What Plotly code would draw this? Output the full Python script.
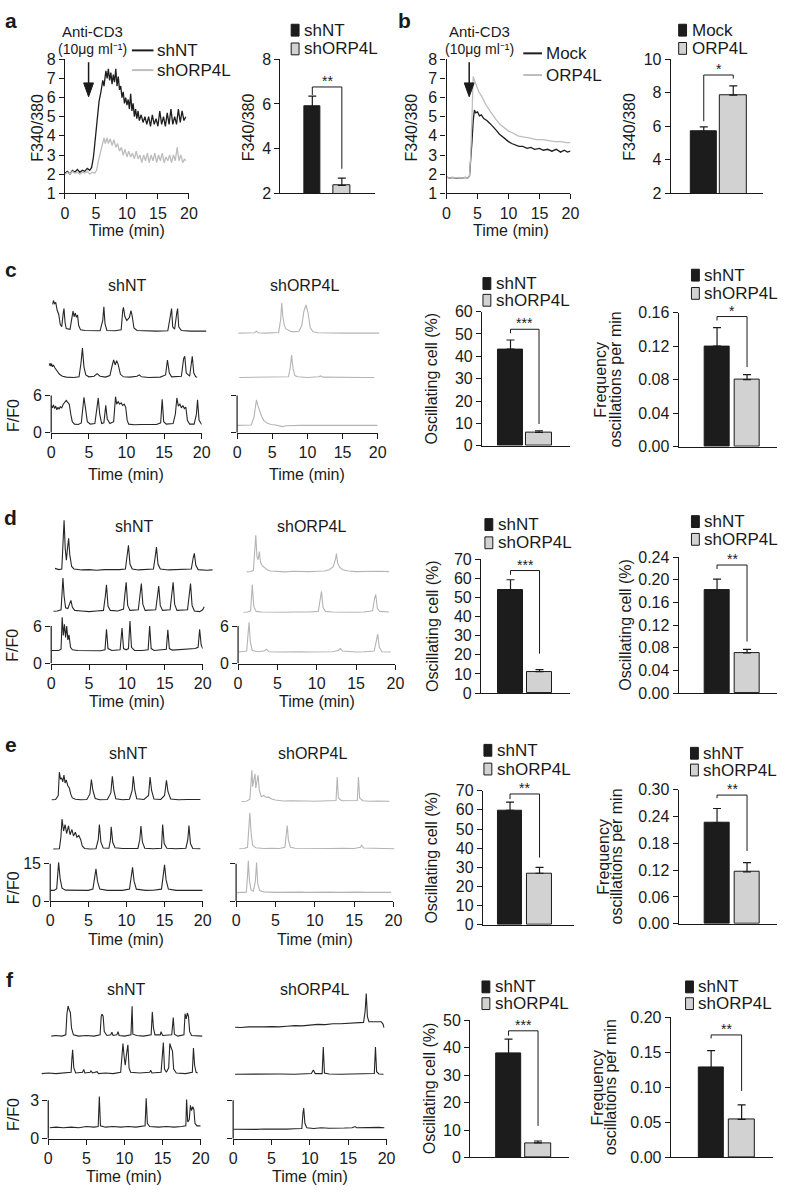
import plotly.graph_objects as go

W, H = 788, 1196
FONT = "Liberation Sans, Arial, Helvetica, sans-serif"
INK = "#1a1a1a"
DARK_TRACE = "#262626"
LIGHT_TRACE = "#b4b4b4"
BAR_COLORS = ["#1c1c1c", "#d2d2d2"]

TIME_TICKS = [0, 5, 10, 15, 20]
A_YTICKS = [1, 2, 3, 4, 5, 6, 7, 8]

# ---------------- panel a / b traces (time min, F340/380) ----------------
A_NT = [(0, 2.05), (0.4, 2.15), (0.8, 2.0), (1.2, 2.2), (1.6, 2.1), (2.0, 2.25), (2.4, 2.1), (2.8, 2.2),
        (3.2, 2.15), (3.6, 2.3), (4.0, 2.2), (4.3, 2.35), (4.6, 2.9), (4.9, 3.8), (5.2, 4.9), (5.5, 5.8),
        (5.8, 6.3), (6.1, 6.9), (6.3, 6.6), (6.6, 7.4), (6.8, 7.0), (7.0, 7.5), (7.2, 6.9), (7.4, 7.3),
        (7.6, 6.7), (7.8, 7.2), (8.0, 6.8), (8.2, 7.5), (8.4, 6.6), (8.6, 7.1), (8.8, 6.4), (9.0, 6.6),
        (9.2, 6.0), (9.4, 6.3), (9.6, 5.7), (9.8, 6.0), (10.0, 5.6), (10.2, 5.9), (10.4, 5.4), (10.6, 6.2),
        (10.8, 5.3), (11.0, 5.7), (11.2, 5.0), (11.4, 5.4), (11.6, 4.9), (11.8, 5.3), (12.0, 4.8), (12.3, 5.1),
        (12.6, 4.7), (12.9, 5.0), (13.2, 4.6), (13.5, 5.0), (13.8, 4.5), (14.1, 5.1), (14.4, 4.6), (14.7, 4.9),
        (15.0, 4.5), (15.3, 5.3), (15.6, 4.6), (15.9, 5.0), (16.2, 4.5), (16.5, 5.2), (16.8, 4.6), (17.1, 5.4),
        (17.4, 4.6), (17.7, 5.0), (18.0, 4.6), (18.3, 5.4), (18.6, 4.7), (18.9, 5.3), (19.2, 4.8), (19.5, 5.0)]
A_ORP = [(0, 2.0), (0.4, 2.1), (0.8, 2.0), (1.2, 2.15), (1.6, 2.05), (2.0, 2.1), (2.4, 2.0), (2.8, 2.1),
         (3.2, 2.05), (3.6, 2.15), (4.0, 2.0), (4.4, 2.1), (4.8, 2.05), (5.1, 2.2), (5.4, 2.7), (5.7, 3.2),
         (6.0, 3.5), (6.3, 3.9), (6.5, 3.6), (6.8, 3.9), (7.0, 3.6), (7.3, 3.85), (7.6, 3.5), (7.9, 3.8),
         (8.2, 3.4), (8.5, 3.6), (8.8, 3.2), (9.1, 3.4), (9.4, 3.0), (9.7, 3.3), (10.0, 2.9), (10.3, 3.2),
         (10.6, 2.9), (10.9, 3.1), (11.2, 2.8), (11.5, 3.2), (11.8, 2.8), (12.1, 3.0), (12.4, 2.6), (12.7, 3.0),
         (13.0, 2.7), (13.3, 3.1), (13.6, 2.6), (13.9, 3.0), (14.2, 2.7), (14.5, 3.1), (14.8, 2.6), (15.1, 3.0),
         (15.4, 2.7), (15.7, 3.1), (16.0, 2.6), (16.3, 2.9), (16.6, 2.7), (16.9, 3.0), (17.2, 2.6), (17.5, 3.0),
         (17.8, 2.7), (18.1, 3.4), (18.4, 2.7), (18.7, 3.0), (19.0, 2.6), (19.3, 2.8), (19.5, 2.7)]
B_MOCK = [(0, 1.85), (0.5, 1.8), (1, 1.83), (1.5, 1.78), (2, 1.82), (2.5, 1.79), (3, 1.83), (3.4, 1.8),
          (3.7, 1.9), (3.9, 2.6), (4.1, 3.7), (4.3, 4.8), (4.5, 5.35), (4.7, 5.2), (5.0, 5.25), (5.3, 5.05),
          (5.6, 5.1), (6.0, 4.9), (6.5, 4.8), (7.0, 4.65), (7.5, 4.5), (8.0, 4.3), (8.5, 4.1), (9.0, 3.95),
          (9.6, 3.8), (10.0, 3.7), (10.5, 3.6), (11.0, 3.55), (11.7, 3.45), (12.3, 3.45), (13.0, 3.35),
          (13.6, 3.4), (14.2, 3.3), (15.0, 3.35), (15.6, 3.25), (16.3, 3.3), (17.0, 3.2), (17.7, 3.3),
          (18.4, 3.15), (19.0, 3.25), (19.5, 3.15), (20, 3.2)]
B_ORP4L = [(0, 1.85), (0.5, 1.8), (1, 1.82), (1.5, 1.8), (2, 1.83), (2.5, 1.8), (3, 1.82), (3.4, 1.8),
           (3.7, 1.9), (3.9, 3.0), (4.1, 5.0), (4.3, 7.1), (4.5, 6.9), (4.8, 6.6), (5.2, 6.3), (5.6, 6.1),
           (5.9, 5.9), (6.4, 5.6), (7.0, 5.3), (7.5, 5.05), (8.0, 4.85), (8.6, 4.6), (9.2, 4.45), (10.0, 4.25),
           (10.7, 4.15), (11.5, 4.0), (12.3, 3.95), (13.3, 3.9), (14.5, 3.8), (15.5, 3.8), (16.5, 3.75),
           (17.5, 3.7), (18.5, 3.7), (19.3, 3.65), (20, 3.65)]

# ---------------- bar data ----------------
A_BAR, A_ERR, A_BRK = [5.88, 2.35], [0.47, 0.33], [6.4, 6.76, 3.1]
B_BAR, B_ERR, B_BRK = [5.7, 7.86], [0.26, 0.55], [6.3, 9.06, 8.85]
C1_BAR, C1_ERR, C1_BRK = [43.2, 5.9], [4.1, 0.7], [50.3, 52.1, 9.7]
C2_BAR, C2_ERR, C2_BRK = [0.120, 0.080], [0.022, 0.006], [0.1506, 0.1553, 0.095]
D1_BAR, D1_ERR, D1_BRK = [54.0, 11.2], [5.2, 1.1], [61.8, 64.0, 20.6]
D2_BAR, D2_ERR, D2_BRK = [0.181, 0.071], [0.020, 0.006], [0.219, 0.226, 0.091]
E1_BAR, E1_ERR, E1_BRK = [59.7, 26.9], [4.3, 3.1], [65.6, 68.3, 35.1]
E2_BAR, E2_ERR, E2_BRK = [0.226, 0.116], [0.032, 0.021], [0.281, 0.288, 0.163]
F1_BAR, F1_ERR, F1_BRK = [37.9, 5.3], [5.3, 0.7], [44.4, 46.2, 11.5]
F2_BAR, F2_ERR, F2_BRK = [0.128, 0.0545], [0.0245, 0.0205], [0.170, 0.175, 0.095]

# ---------------- single-cell traces (time min, F/F0) ----------------
C_NT_1 = [(0.2, 5.6), (0.3, 6.2), (0.45, 5.7), (0.6, 5.9), (0.8, 4.6), (1.0, 4.0), (1.2, 2.4), (1.4, 2.0),
          (1.6, 4.2), (1.7, 4.9), (1.85, 2.6), (2.0, 1.7), (2.5, 1.6), (2.75, 3.5), (2.9, 4.5), (3.05, 3.6),
          (3.2, 4.2), (3.35, 3.5), (3.5, 3.9), (3.65, 2.2), (3.9, 1.5), (4.5, 1.4), (5.5, 1.35), (6.5, 1.35),
          (6.85, 3.0), (7.0, 5.2), (7.15, 2.5), (7.4, 1.4), (8.5, 1.35), (9.3, 1.5), (9.5, 4.5), (9.6, 5.1),
          (9.8, 3.6), (9.9, 3.3), (10.05, 3.0), (10.4, 3.5), (10.6, 4.6), (10.75, 3.8), (11.0, 1.8), (11.4, 1.4),
          (12.5, 1.35), (14, 1.3), (15.5, 1.35), (15.85, 3.5), (16.0, 4.9), (16.15, 2.0), (16.4, 1.6),
          (16.7, 4.3), (16.8, 4.9), (16.95, 2.0), (17.3, 1.4), (18.5, 1.3), (20.6, 1.3)]
C_NT_2 = [(-0.25, 3.2), (-0.15, 3.6), (-0.05, 3.1), (0.05, 3.5), (0.15, 3.0), (0.3, 3.3), (0.5, 2.8), (0.8, 2.3),
          (1.1, 1.8), (1.5, 1.5), (2.0, 1.35), (3.0, 1.3), (3.7, 1.4), (3.95, 3.5), (4.15, 6.0), (4.35, 3.0),
          (4.6, 1.7), (5.0, 1.4), (5.7, 1.5), (6.1, 1.9), (6.5, 1.5), (7.2, 1.35), (7.8, 1.6), (8.1, 3.2),
          (8.3, 4.1), (8.5, 3.3), (8.7, 4.0), (8.9, 3.4), (9.2, 1.8), (9.6, 1.4), (10.5, 1.35), (11.4, 1.5),
          (11.7, 1.7), (12.0, 1.4), (13, 1.3), (14.5, 1.35), (15.2, 1.7), (15.45, 4.1), (15.7, 2.0), (16.0, 1.4),
          (17.3, 1.5), (17.6, 4.3), (17.75, 4.7), (17.95, 2.0), (18.4, 1.5), (18.75, 4.7), (18.95, 2.0),
          (19.2, 1.4), (19.4, 1.35)]
C_NT_3 = [(0, 4.4), (0.15, 4.0), (0.3, 4.5), (0.45, 3.9), (0.6, 4.3), (0.75, 3.7), (0.9, 4.1), (1.05, 3.8),
          (1.2, 4.2), (1.4, 4.0), (1.6, 4.6), (1.8, 5.0), (2.0, 5.2), (2.2, 4.9), (2.4, 4.6), (2.6, 3.0),
          (2.8, 1.8), (3.1, 1.4), (3.6, 1.35), (4.0, 1.6), (4.2, 4.5), (4.35, 5.7), (4.55, 4.0), (4.8, 1.8),
          (5.2, 1.4), (5.8, 1.5), (6.1, 4.2), (6.25, 5.6), (6.45, 3.0), (6.7, 1.5), (7.0, 1.6), (7.25, 4.4),
          (7.45, 2.2), (7.8, 1.5), (8.3, 1.8), (8.55, 5.8), (8.7, 4.6), (8.9, 5.0), (9.1, 4.6), (9.3, 4.8),
          (9.5, 4.4), (9.7, 4.6), (9.9, 4.1), (10.1, 2.0), (10.3, 1.4), (11, 1.3), (12, 1.35), (13, 1.3),
          (14, 1.35), (14.55, 1.6), (14.75, 5.4), (14.95, 1.8), (15.3, 1.4), (16.2, 1.5), (16.5, 3.0),
          (16.7, 5.6), (16.9, 4.3), (17.1, 4.6), (17.3, 4.0), (17.5, 4.4), (17.7, 3.9), (17.9, 4.1), (18.1, 2.0),
          (18.4, 1.4), (19.0, 1.4), (19.3, 3.0), (19.45, 5.3), (19.65, 2.0), (19.9, 1.4), (20, 1.35)]
C_ORP_1 = [(0.2, 1.3), (1.0, 1.3), (2.0, 1.3), (2.5, 1.35), (2.75, 1.6), (3.0, 1.35), (4, 1.3), (5, 1.3),
           (5.9, 1.4), (6.2, 3.5), (6.35, 6.1), (6.5, 4.0), (6.7, 2.6), (6.9, 2.0), (7.2, 1.8), (7.6, 1.6),
           (8.0, 1.5), (8.8, 1.6), (9.2, 2.5), (9.5, 4.8), (9.8, 5.8), (10.1, 4.5), (10.4, 2.2), (10.8, 1.5),
           (11.5, 1.35), (13, 1.3), (15, 1.3), (17, 1.3), (19, 1.3), (20.2, 1.3)]
C_ORP_2 = [(0.3, 1.3), (2, 1.3), (4, 1.3), (6, 1.3), (7.3, 1.4), (7.55, 2.8), (7.75, 4.9), (7.95, 2.8),
           (8.2, 1.6), (8.6, 1.4), (10, 1.3), (11.6, 1.4), (11.9, 1.55), (12.2, 1.35), (14, 1.3), (16, 1.3),
           (18, 1.3), (19.5, 1.3)]
C_ORP_3 = [(0, 1.2), (1, 1.2), (2.0, 1.25), (2.4, 2.5), (2.6, 4.6), (2.75, 5.3), (2.95, 4.4), (3.2, 3.4),
           (3.5, 2.6), (3.8, 2.0), (4.2, 1.6), (4.8, 1.35), (5.5, 1.25), (6.4, 1.0), (7, 1.15), (9, 1.2),
           (11, 1.2), (13, 1.2), (15, 1.15), (17, 1.2), (19, 1.2), (20, 1.2)]

D_NT_1 = [(0.5, 2.3), (1.0, 2.1), (1.4, 2.2), (1.55, 6.0), (1.7, 10.0), (1.85, 5.5), (2.0, 3.6), (2.15, 5.5),
          (2.3, 7.1), (2.45, 4.5), (2.7, 2.6), (3.0, 2.2), (4, 2.05), (5, 2.1), (6, 2.0), (7, 2.1), (8, 2.05),
          (9, 2.1), (9.8, 2.2), (10.05, 4.5), (10.2, 6.0), (10.4, 3.0), (10.7, 2.2), (11.5, 2.05), (12.5, 2.1),
          (13.5, 2.2), (13.75, 4.3), (13.9, 5.7), (14.1, 3.0), (14.4, 2.2), (15.5, 2.05), (16.5, 2.1),
          (17.5, 2.05), (18.5, 2.2), (18.75, 4.0), (18.9, 4.7), (19.1, 2.8), (19.4, 2.1), (20.5, 2.0), (21.3, 2.05)]
D_NT_2 = [(0.3, 2.05), (0.8, 2.1), (1.3, 2.3), (1.45, 5.0), (1.55, 7.4), (1.7, 4.5), (1.9, 2.6), (2.2, 2.5),
          (2.45, 3.4), (2.6, 3.8), (2.8, 2.7), (3.1, 2.2), (4, 2.1), (5, 2.0), (6, 2.1), (6.9, 2.2), (7.15, 4.5),
          (7.3, 6.3), (7.5, 2.9), (7.8, 2.2), (8.8, 2.1), (9.55, 2.4), (9.75, 5.0), (9.9, 6.7), (10.1, 3.0),
          (10.4, 2.2), (11.5, 2.3), (11.75, 4.8), (11.9, 6.5), (12.1, 3.2), (12.4, 2.2), (13.8, 2.3),
          (14.05, 4.5), (14.2, 6.1), (14.4, 3.0), (14.7, 2.2), (15.7, 2.3), (15.95, 5.0), (16.1, 6.7),
          (16.3, 3.2), (16.6, 2.2), (18.0, 2.3), (18.25, 4.8), (18.4, 6.5), (18.6, 3.0), (18.9, 2.1),
          (19.6, 2.0), (20.0, 2.3), (20.2, 2.8)]
D_NT_3 = [(0, 2.1), (0.5, 2.15), (1.0, 2.1), (1.3, 2.3), (1.45, 7.4), (1.6, 4.5), (1.75, 6.3), (1.9, 4.2),
          (2.05, 6.0), (2.2, 3.8), (2.35, 4.6), (2.55, 2.6), (2.8, 2.2), (3.5, 2.1), (4.5, 2.05), (5.5, 2.1),
          (6.5, 2.05), (7.1, 2.2), (7.3, 5.5), (7.5, 2.4), (8.0, 2.1), (9.1, 2.2), (9.35, 5.7), (9.55, 2.4),
          (9.9, 2.2), (10.2, 2.4), (10.4, 6.8), (10.6, 2.6), (11, 2.1), (12, 2.1), (12.8, 2.2), (13.0, 6.0),
          (13.2, 2.4), (13.6, 2.1), (14.5, 2.15), (15.2, 2.3), (15.4, 5.4), (15.6, 2.4), (16, 2.15), (17, 2.2),
          (18, 2.3), (19, 2.4), (19.4, 2.6), (19.6, 5.5), (19.8, 3.0), (20, 2.4)]
D_ORP_1 = [(1.1, 2.05), (1.6, 2.1), (1.95, 2.3), (2.1, 5.5), (2.25, 7.9), (2.4, 4.5), (2.55, 4.0), (2.7, 5.3),
           (2.85, 3.6), (3.1, 3.0), (3.4, 2.7), (3.7, 2.4), (4.1, 2.2), (5, 2.1), (6, 2.05), (7, 2.15), (8, 2.1),
           (9, 2.1), (10, 2.15), (11, 2.2), (11.6, 2.4), (12.1, 2.9), (12.4, 4.2), (12.5, 5.0), (12.65, 3.5),
           (12.9, 2.8), (13.3, 2.4), (14, 2.2), (15, 2.1), (16, 2.15), (17, 2.1), (18, 2.15), (19.2, 2.1)]
D_ORP_2 = [(0.7, 2.05), (1.2, 2.1), (1.6, 2.3), (1.8, 6.5), (2.0, 3.0), (2.3, 2.2), (3, 2.1), (4, 2.05),
           (5, 2.1), (6, 2.05), (7, 2.1), (8, 2.05), (9, 2.1), (10.2, 2.2), (10.45, 4.5), (10.6, 5.4),
           (10.8, 2.8), (11.1, 2.2), (12, 2.1), (13, 2.05), (14, 2.1), (15, 2.05), (16, 2.1), (17.1, 2.3),
           (17.35, 4.3), (17.5, 4.9), (17.7, 2.7), (18.0, 2.2), (19.2, 2.1)]
D_ORP_3 = [(0, 1.85), (0.6, 1.9), (1.1, 2.0), (1.25, 4.5), (1.4, 6.6), (1.55, 3.5), (1.8, 2.1), (2.5, 1.9),
           (3.3, 2.0), (3.6, 2.3), (3.9, 1.9), (5, 1.85), (6, 1.9), (7, 1.85), (8, 1.9), (9, 1.85), (10, 1.9),
           (11, 1.85), (12, 1.9), (12.7, 2.1), (13.0, 2.4), (13.3, 2.0), (14, 1.9), (15, 1.85), (16, 1.9),
           (17.3, 2.0), (17.6, 3.8), (17.75, 4.7), (17.95, 2.6), (18.3, 1.9), (19.4, 1.85)]

E_NT_1 = [(0.2, 4.3), (0.7, 4.4), (1.05, 6.0), (1.2, 15.4), (1.35, 12.5), (1.5, 13.0), (1.65, 11.5), (1.8, 14.2),
          (1.95, 11.0), (2.1, 12.2), (2.3, 10.0), (2.5, 9.0), (2.7, 6.5), (2.9, 5.0), (3.3, 4.5), (4, 4.3),
          (4.8, 4.4), (5.2, 6.5), (5.4, 12.4), (5.6, 8.0), (5.9, 4.8), (6.5, 4.3), (7.5, 4.4), (7.95, 7.0),
          (8.15, 13.7), (8.35, 8.0), (8.6, 4.7), (9.5, 4.3), (10.4, 4.5), (10.75, 8.0), (10.9, 13.7),
          (11.1, 8.0), (11.35, 4.7), (12.3, 4.4), (12.9, 6.0), (13.1, 13.4), (13.3, 8.0), (13.6, 4.6),
          (14.5, 4.4), (15.0, 6.0), (15.25, 12.1), (15.45, 7.5), (15.8, 4.6), (16.8, 4.3), (18, 4.4),
          (19, 4.3), (19.7, 4.4)]
E_NT_2 = [(0.4, 4.3), (1.2, 4.4), (1.4, 9.0), (1.55, 16.3), (1.75, 11.5), (1.95, 14.1), (2.15, 10.5),
          (2.4, 13.6), (2.6, 10.0), (2.85, 12.1), (3.05, 9.5), (3.3, 11.0), (3.5, 9.0), (3.75, 9.7), (4.0, 8.0),
          (4.2, 5.5), (4.5, 4.5), (5.2, 4.3), (6.0, 4.4), (6.3, 8.0), (6.45, 14.1), (6.65, 7.0), (6.95, 4.7),
          (7.7, 4.6), (7.9, 8.0), (8.0, 13.2), (8.2, 7.0), (8.5, 4.8), (9.5, 4.5), (10.5, 4.4), (11.5, 4.5),
          (11.75, 8.0), (11.9, 13.5), (12.1, 7.0), (12.4, 4.6), (13.5, 4.4), (14.6, 4.6), (14.75, 14.1),
          (14.95, 6.5), (15.3, 4.6), (16.5, 4.4), (17.8, 4.6), (18.05, 8.0), (18.2, 13.7), (18.4, 6.5),
          (18.7, 4.5), (19.7, 4.4)]
E_NT_3 = [(0, 4.3), (0.5, 4.3), (0.85, 5.0), (1.0, 12.0), (1.1, 15.5), (1.3, 9.0), (1.55, 5.2), (2.0, 4.4),
          (3, 4.3), (4, 4.35), (5, 4.3), (5.6, 4.8), (5.85, 11.0), (6.0, 12.9), (6.2, 8.0), (6.5, 4.8),
          (7.5, 4.3), (8.5, 4.35), (9.5, 4.3), (10.4, 4.8), (10.65, 11.5), (10.8, 13.5), (11.0, 8.0),
          (11.3, 4.8), (12.5, 4.3), (13.5, 4.35), (14.6, 4.8), (14.85, 12.0), (15.0, 14.5), (15.2, 8.5),
          (15.5, 4.8), (16.5, 4.3), (17.5, 4.35), (18.5, 4.3), (20, 4.3)]
E_ORP_1 = [(0.7, 3.6), (1.3, 3.7), (1.75, 4.5), (1.9, 10.0), (2.0, 16.1), (2.1, 9.5), (2.25, 12.0),
           (2.4, 14.7), (2.5, 9.0), (2.65, 11.0), (2.8, 14.1), (2.95, 8.0), (3.2, 5.5), (3.5, 6.0), (3.8, 5.2),
           (4.1, 5.4), (4.5, 4.6), (5, 4.2), (6, 3.8), (7, 3.9), (8, 3.7), (9, 3.8), (10, 3.7), (11, 3.8),
           (12, 3.7), (12.7, 4.0), (12.85, 13.4), (13.0, 5.0), (13.4, 3.9), (14.5, 3.8), (15.4, 4.0),
           (15.55, 13.4), (15.7, 5.0), (16.1, 3.9), (17, 3.7), (18, 3.8), (19.5, 3.7)]
E_ORP_2 = [(0.4, 3.6), (1.0, 3.7), (1.45, 4.2), (1.6, 10.0), (1.75, 18.0), (1.9, 10.0), (2.1, 5.0), (2.5, 4.0),
           (3.5, 3.7), (4.5, 3.8), (5.5, 3.7), (6.2, 4.2), (6.35, 9.0), (6.5, 12.9), (6.65, 7.0), (6.9, 4.2),
           (7.5, 3.8), (9, 3.7), (10.5, 3.8), (12, 3.7), (13.5, 3.8), (15, 3.7), (15.8, 4.2), (15.95, 5.0),
           (16.2, 3.9), (17.5, 3.7), (19, 3.7), (20.1, 3.6)]
E_ORP_3 = [(0.1, 3.4), (0.8, 3.5), (1.3, 3.6), (1.45, 10.0), (1.55, 16.2), (1.7, 8.0), (1.9, 4.5), (2.2, 4.0),
           (2.45, 8.0), (2.6, 15.5), (2.75, 7.0), (3.0, 4.2), (3.5, 3.7), (5, 3.5), (6, 3.6), (7, 3.5), (8, 3.6),
           (9, 3.5), (10, 3.6), (11, 3.5), (12, 3.6), (13, 3.5), (14, 3.6), (15, 3.8), (15.5, 3.6), (16.5, 3.5),
           (17.5, 3.6), (18.5, 3.5), (19.7, 3.5)]

F_NT_1 = [(0.4, 0.85), (1, 0.9), (1.8, 0.85), (2.3, 0.95), (2.45, 2.6), (2.6, 3.2), (2.75, 2.9), (2.9, 2.7),
          (3.05, 1.5), (3.3, 0.95), (4, 0.85), (5, 0.9), (6, 0.85), (6.8, 0.95), (6.95, 2.4), (7.05, 2.56),
          (7.2, 2.4), (7.35, 1.2), (7.7, 0.9), (8.2, 0.95), (8.35, 1.15), (8.5, 0.9), (9.0, 0.95), (9.15, 1.2),
          (9.3, 0.9), (10, 0.85), (10.85, 0.95), (11.0, 3.18), (11.1, 1.0), (11.6, 0.9), (12.5, 0.85),
          (13.5, 0.95), (13.65, 2.74), (13.8, 1.5), (14.0, 0.95), (14.7, 0.95), (14.8, 1.2), (15.0, 0.9),
          (16.2, 0.95), (16.4, 2.3), (16.55, 1.0), (17, 0.85), (17.8, 0.95), (17.95, 2.6), (18.1, 2.2),
          (18.25, 2.65), (18.4, 2.4), (18.55, 1.2), (18.8, 0.9), (19.5, 0.85), (20.2, 0.85)]
F_NT_2 = [(-0.85, 0.85), (0, 0.9), (1, 0.85), (2, 0.9), (3.0, 0.95), (3.1, 2.0), (3.2, 2.7), (3.35, 1.3),
          (3.6, 0.9), (4.5, 0.95), (4.65, 1.18), (4.8, 0.9), (5.5, 0.95), (5.6, 1.05), (5.8, 0.9), (6.4, 1.0),
          (6.6, 0.85), (7.5, 0.9), (8.5, 0.85), (9.5, 0.95), (9.65, 2.6), (9.8, 3.2), (9.95, 2.2), (10.1, 1.5),
          (10.3, 2.5), (10.45, 3.1), (10.6, 1.3), (10.8, 0.95), (12, 0.9), (13.3, 0.95), (13.45, 1.1),
          (13.6, 0.9), (14.8, 0.95), (14.95, 2.4), (15.1, 3.28), (15.25, 1.2), (15.5, 0.95), (15.8, 1.3),
          (15.95, 3.2), (16.1, 2.9), (16.3, 2.6), (16.45, 1.2), (16.8, 0.9), (18, 0.85), (18.9, 0.95),
          (19.05, 2.85), (19.2, 1.5), (19.4, 0.95), (19.6, 0.9)]
F_NT_3 = [(0.2, 0.85), (1, 0.9), (2, 0.85), (3, 0.9), (4, 0.85), (5, 0.95), (6, 0.9), (6.55, 0.95), (6.7, 3.3),
          (6.85, 1.0), (7.5, 0.9), (8.5, 0.95), (9.5, 0.9), (10.5, 0.95), (11.5, 0.9), (12.7, 1.0), (12.85, 3.15),
          (13.0, 1.2), (13.3, 0.95), (14.5, 0.9), (15.5, 0.95), (16.5, 0.9), (17.5, 0.95), (18.05, 1.0),
          (18.15, 3.05), (18.3, 1.3), (18.5, 1.5), (18.65, 2.6), (18.8, 2.2), (18.95, 2.5), (19.1, 2.3),
          (19.25, 1.2), (19.5, 1.0), (20, 1.0)]
F_ORP_1 = [(0.25, 0.77), (1, 0.75), (2, 0.8), (3, 0.78), (4, 0.8), (5, 0.82), (6, 0.8), (7, 0.85), (8, 0.9),
           (9, 0.88), (10, 0.95), (11, 1.0), (12, 0.98), (13, 1.05), (14, 1.05), (15, 1.1), (16, 1.1),
           (17.0, 1.15), (17.2, 2.0), (17.35, 3.4), (17.5, 1.6), (17.7, 1.2), (18.5, 1.2), (19.3, 1.2),
           (19.55, 1.0), (19.65, 0.75)]
F_ORP_2 = [(0.25, 0.8), (2, 0.82), (4, 0.8), (6, 0.82), (8, 0.8), (10.2, 0.85), (10.45, 1.13), (10.7, 0.85),
           (11.6, 0.85), (11.75, 2.92), (11.9, 0.9), (12.5, 0.82), (14, 0.8), (16, 0.82), (18.4, 0.85),
           (18.55, 2.92), (18.7, 1.0), (19, 0.82), (19.6, 0.8)]
F_ORP_3 = [(0, 0.74), (1, 0.72), (2, 0.75), (3, 0.73), (4, 0.76), (5, 0.74), (6, 0.77), (7, 0.75), (8, 0.78),
           (8.95, 0.8), (9.1, 2.0), (9.2, 2.38), (9.35, 1.2), (9.6, 0.85), (10.5, 0.8), (11.5, 0.85),
           (12.5, 0.82), (13.5, 0.85), (14.5, 0.83), (15.5, 0.85), (15.9, 0.95), (16.1, 0.85), (17, 0.87),
           (18, 0.9), (19, 0.88), (19.7, 0.86)]

# ======================================================================
fig = go.Figure()
axes_layout = {}
shapes = []
annotations = []
n_axes = [0]


def px_x(p):
    return p / W


def px_y(p):
    return 1 - p / H


AX = dict(showgrid=False, zeroline=False, showline=True, linecolor=INK, linewidth=1.2,
          ticks="outside", ticklen=5, tickwidth=1.2, tickcolor=INK,
          tickfont=dict(family=FONT, size=16, color=INK), fixedrange=True)
HID = dict(visible=False, showgrid=False, zeroline=False, fixedrange=True)


def add_axes(xdom, ydom, xkw, ykw):
    n_axes[0] += 1
    i = n_axes[0]
    s = "" if i == 1 else str(i)
    xa = dict(xkw)
    ya = dict(ykw)
    xa.update(domain=[px_x(xdom[0]), px_x(xdom[1])], anchor="y" + s)
    ya.update(domain=[px_y(ydom[1]), px_y(ydom[0])], anchor="x" + s)
    axes_layout["xaxis" + s] = xa
    axes_layout["yaxis" + s] = ya
    return "x" + s, "y" + s


def text(xp, yp, s, size=16, angle=0, xanchor="center", yanchor="middle"):
    annotations.append(dict(xref="paper", yref="paper", x=px_x(xp), y=px_y(yp), text=s, showarrow=False,
                            xanchor=xanchor, yanchor=yanchor, textangle=angle,
                            font=dict(family=FONT, size=size, color=INK)))


def line_trace(data, xa, ya, color, width=1.1):
    fig.add_trace(go.Scatter(x=[p[0] for p in data], y=[p[1] for p in data], mode="lines",
                             line=dict(color=color, width=width), xaxis=xa, yaxis=ya,
                             hoverinfo="skip", showlegend=False))


def trace_column(t0px, t20px, ppu, rows, color, tickmax, ticklabels, time_y):
    ppm = (t20px - t0px) / 20.0
    for k, (zp, data) in enumerate(rows):
        vals = [p[1] for p in data]
        if k < len(rows) - 1:
            xr = [-1.5, 22]
            vmax = max(vals) * 1.15
            xa, ya = add_axes((t0px + xr[0] * ppm, t0px + xr[1] * ppm), (zp - vmax * ppu, zp),
                              dict(HID, range=xr), dict(HID, range=[0, vmax]))
        else:
            vmax = max(tickmax, max(vals)) * 1.1
            ykw = dict(AX, showline=False, range=[0, vmax], tickvals=[0, tickmax])
            if ticklabels:
                ykw["ticktext"] = [str(0), str(tickmax)]
            else:
                ykw["showticklabels"] = False
            xa, ya = add_axes((t0px, t20px), (zp - vmax * ppu, zp),
                              dict(AX, range=[0, 20], tickvals=TIME_TICKS), ykw)
            shapes.append(dict(type="line", xref=xa + " domain", yref=ya, x0=0, x1=0, y0=0, y1=tickmax,
                               line=dict(color=INK, width=1.2)))
            text((t0px + t20px) / 2, time_y, "Time (min)")
        line_trace(data, xa, ya, color)


def bar_panel(ax0, ax1, c0, sp, bw, ytop, ybot, yr, yticks, fmt, vals, errs, brk, stars):
    xr = [(ax0 - c0) / sp, (ax1 - c0) / sp]
    ykw = dict(AX, range=yr, tickvals=yticks)
    if fmt:
        ykw["tickformat"] = fmt
    xa, ya = add_axes((ax0, ax1), (ytop, ybot),
                      dict(AX, range=xr, ticks="", showticklabels=False), ykw)
    fig.add_trace(go.Bar(x=[0, 1], y=vals, width=bw / sp,
                         marker=dict(color=BAR_COLORS, line=dict(color=INK, width=1)),
                         error_y=dict(type="data", symmetric=False, array=errs, arrayminus=[0, 0],
                                      color=INK, thickness=1.2, width=4),
                         xaxis=xa, yaxis=ya, hoverinfo="skip", showlegend=False))
    fig.add_trace(go.Scatter(x=[0, 0, 1, 1], y=[brk[0], brk[1], brk[1], brk[2]], mode="lines",
                             line=dict(color=INK, width=1), xaxis=xa, yaxis=ya,
                             hoverinfo="skip", showlegend=False))
    annotations.append(dict(xref=xa, yref=ya, x=0.5, y=brk[1], text=stars, showarrow=False,
                            yanchor="bottom", yshift=-4, font=dict(family=FONT, size=14, color=INK)))


def bar_legend(xp, y1, y2, labels):
    for yc, col, lab in ((y1, BAR_COLORS[0], labels[0]), (y2, BAR_COLORS[1], labels[1])):
        shapes.append(dict(type="rect", xref="paper", yref="paper", x0=px_x(xp), x1=px_x(xp + 8),
                           y0=px_y(yc + 6), y1=px_y(yc - 6), fillcolor=col, line=dict(color=INK, width=1)))
        text(xp + 11, yc, lab, size=17, xanchor="left")


def line_legend(x0, x1, y1, y2, labels, colors):
    for yc, col, lab in ((y1, colors[0], labels[0]), (y2, colors[1], labels[1])):
        shapes.append(dict(type="line", xref="paper", yref="paper", x0=px_x(x0), x1=px_x(x1),
                           y0=px_y(yc), y1=px_y(yc), line=dict(color=col, width=2)))
        text(x1 + 2, yc, lab, size=17, xanchor="left")


def stim_arrow(xp, cx):
    text(cx, 24, "Anti-CD3", size=15)
    text(cx, 42, "(10\u03bcg ml\u207b\u00b9)", size=14)
    shapes.append(dict(type="line", xref="paper", yref="paper", x0=px_x(xp), x1=px_x(xp),
                       y0=px_y(55), y1=px_y(78), line=dict(color=INK, width=1.5)))
    path = "M {:.5f} {:.5f} L {:.5f} {:.5f} L {:.5f} {:.5f} Z".format(
        px_x(xp - 5), px_y(76), px_x(xp + 5), px_y(76), px_x(xp), px_y(90))
    shapes.append(dict(type="path", xref="paper", yref="paper", path=path, fillcolor=INK,
                       line=dict(color=INK, width=1)))


def letter(xp, yp, s):
    text(xp, yp, "<b>" + s + "</b>", size=21)


# ---------------- panel a ----------------
letter(7, 13, "a")
xa, ya = add_axes((62, 188), (52, 188), dict(AX, range=[0, 20], tickvals=TIME_TICKS),
                  dict(AX, range=[1, 8], tickvals=A_YTICKS))
line_trace(A_NT, xa, ya, "#1e1e1e", 1.3)
line_trace(A_ORP, xa, ya, "#bdbdbd", 1.3)
text(34, 121, "F340/380", angle=-90)
text(125, 226, "Time (min)")
stim_arrow(86, 90)
line_legend(130, 152, 43, 63, ["shNT", "shORP4L"], ["#1e1e1e", "#bdbdbd"])

bar_panel(281, 377, 313.5, 30, 17, 52, 188, [2, 8], [2, 4, 6, 8], None, A_BAR, A_ERR, A_BRK, "**")
text(248, 121, "F340/380", angle=-90)
bar_legend(292, 22.5, 41.5, ["shNT", "shORP4L"])

# ---------------- panel b ----------------
letter(407, 13, "b")
xa, ya = add_axes((450, 576), (52, 188), dict(AX, range=[0, 20], tickvals=TIME_TICKS),
                  dict(AX, range=[1, 8], tickvals=A_YTICKS))
line_trace(B_MOCK, xa, ya, "#1e1e1e", 1.3)
line_trace(B_ORP4L, xa, ya, "#bdbdbd", 1.3)
text(414, 121, "F340/380", angle=-90)
text(516, 226, "Time (min)")
stim_arrow(473, 483)
line_legend(528, 547, 46, 68, ["Mock", "ORP4L"], ["#1e1e1e", "#bdbdbd"])

bar_panel(678, 772, 711.5, 30, 27, 52, 188, [2, 10], [2, 4, 6, 8, 10], None, B_BAR, B_ERR, B_BRK, "*")
text(636, 121, "F340/380", angle=-90)
bar_legend(686, 22.5, 41, ["Mock", "ORP4L"])

# ---------------- panel c ----------------
letter(7, 265, "c")
text(125, 282, "shNT")
text(306, 282, "shORP4L")
trace_column(48, 201, 6.33, [(336, C_NT_1), (383, C_NT_2), (431, C_NT_3)], DARK_TRACE, 6, True, 473)
trace_column(237, 380, 6.33, [(338, C_ORP_1), (383, C_ORP_2), (431, C_ORP_3)], LIGHT_TRACE, 6, False, 473)
text(9, 413, "F/F0", angle=-90)

bar_panel(486, 575, 515, 29, 26, 308, 444, [0, 60], [0, 10, 20, 30, 40, 50, 60], None,
          C1_BAR, C1_ERR, C1_BRK, "***")
text(435, 376, "Oscillating cell (%)", angle=-90)
bar_legend(487, 279.5, 296.5, ["shNT", "shORP4L"])
bar_panel(686, 786, 725, 30.5, 26, 309, 445, [0, 0.16], [0, 0.04, 0.08, 0.12, 0.16], ".2f",
          C2_BAR, C2_ERR, C2_BRK, "*")
text(607, 377, "Frequency", angle=-90)
text(622, 377, "oscillations per min", angle=-90)
bar_legend(699, 271, 289.5, ["shNT", "shORP4L"])

# ---------------- panel d ----------------
letter(7, 517, "d")
text(132, 526, "shNT")
text(313, 526, "shORP4L")
trace_column(48, 202, 6.33, [(583, D_NT_1), (625, D_NT_2), (665, D_NT_3)], DARK_TRACE, 6, True, 703)
trace_column(238, 398, 6.33, [(585, D_ORP_1), (626, D_ORP_2), (665, D_ORP_3)], LIGHT_TRACE, 6, True, 703)
text(9, 646, "F/F0", angle=-90)

bar_panel(485, 576, 515, 29.5, 26, 559, 695, [0, 70], [0, 10, 20, 30, 40, 50, 60, 70], None,
          D1_BAR, D1_ERR, D1_BRK, "***")
text(435, 627, "Oscillating cell (%)", angle=-90)
bar_legend(489, 524, 542.5, ["shNT", "shORP4L"])
bar_panel(686, 786, 725, 30.5, 26, 557, 695, [0, 0.24], [0, 0.04, 0.08, 0.12, 0.16, 0.20, 0.24], ".2f",
          D2_BAR, D2_ERR, D2_BRK, "**")
text(632, 626, "Oscillating cell (%)", angle=-90)
bar_legend(699, 521, 539, ["shNT", "shORP4L"])

# ---------------- panel e ----------------
letter(7, 747, "e")
text(126, 756, "shNT")
text(314, 756, "shORP4L")
trace_column(47, 202, 2.533, [(814, E_NT_1), (864, E_NT_2), (906, E_NT_3)], DARK_TRACE, 15, True, 945)
trace_column(236, 396, 2.533, [(814, E_ORP_1), (862, E_ORP_2), (906, E_ORP_3)], LIGHT_TRACE, 15, False, 945)
text(9, 892, "F/F0", angle=-90)

bar_panel(487, 580, 514.5, 30, 25, 794, 930, [0, 70], [0, 10, 20, 30, 40, 50, 60, 70], None,
          E1_BAR, E1_ERR, E1_BRK, "**")
text(435, 862, "Oscillating cell (%)", angle=-90)
bar_legend(488, 753, 772, ["shNT", "shORP4L"])
bar_panel(686, 786, 725, 30.5, 26, 793, 929, [0, 0.30], [0, 0.06, 0.12, 0.18, 0.24, 0.30], ".2f",
          E2_BAR, E2_ERR, E2_BRK, "**")
text(610, 861, "Frequency", angle=-90)
text(623, 861, "oscillations per min", angle=-90)
bar_legend(698, 756, 773, ["shNT", "shORP4L"])

# ---------------- panel f ----------------
letter(6, 986, "f")
text(124, 996, "shNT")
text(316, 996, "shORP4L")
trace_column(45, 200, 13, [(1054, F_NT_1), (1092, F_NT_2), (1147, F_NT_3)], DARK_TRACE, 3, True, 1185)
trace_column(233, 389, 13, [(1044, F_ORP_1), (1092, F_ORP_2), (1147, F_ORP_3)], DARK_TRACE, 3, False, 1185)
text(9, 1122, "F/F0", angle=-90)

bar_panel(474, 574, 513, 30, 26, 1027, 1166, [0, 50], [0, 10, 20, 30, 40, 50], None,
          F1_BAR, F1_ERR, F1_BRK, "***")
text(433, 1096, "Oscillating cell (%)", angle=-90)
bar_legend(486, 993, 1010, ["shNT", "shORP4L"])
bar_panel(678, 782, 719, 31, 26, 1024, 1166, [0, 0.20], [0, 0.05, 0.10, 0.15, 0.20], ".2f",
          F2_BAR, F2_ERR, F2_BRK, "**")
text(603, 1095, "Frequency", angle=-90)
text(617, 1095, "oscillations per min", angle=-90)
bar_legend(693, 993, 1010, ["shNT", "shORP4L"])

fig.update_layout(width=W, height=H, margin=dict(l=0, r=0, t=0, b=0), paper_bgcolor="white",
                  plot_bgcolor="rgba(0,0,0,0)", showlegend=False, bargap=0,
                  font=dict(family=FONT, size=16, color=INK),
                  shapes=shapes, annotations=annotations, **axes_layout)
fig.write_html("out.html", config={"displayModeBar": False},
               post_script="document.body.style.margin='0';document.body.style.overflow='hidden';")
